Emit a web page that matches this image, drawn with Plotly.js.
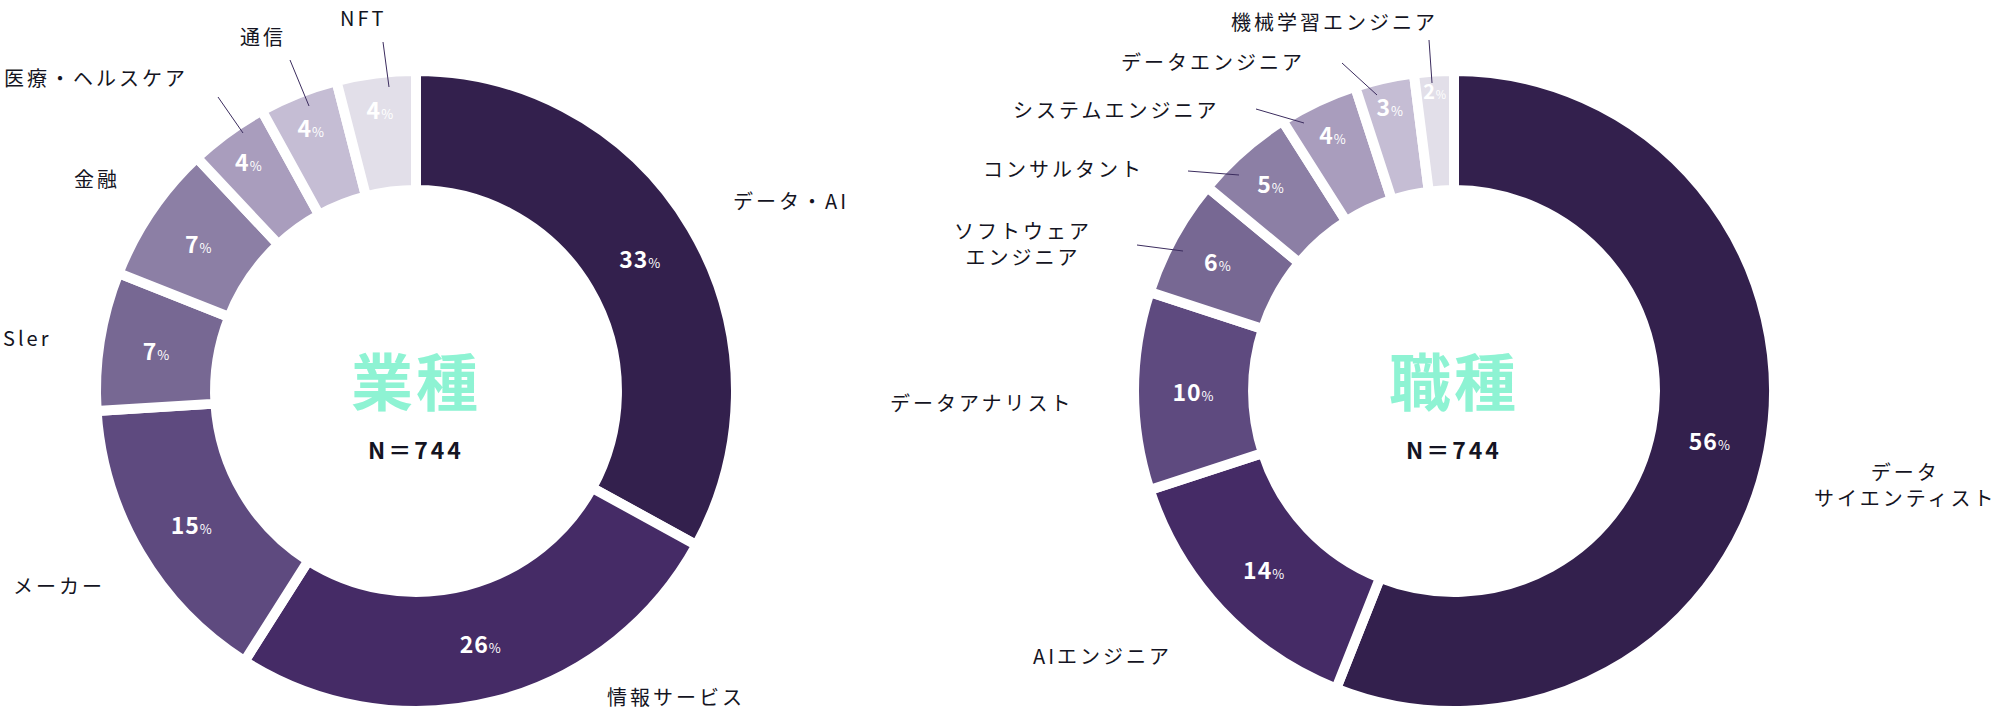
<!DOCTYPE html>
<html>
<head>
<meta charset="utf-8">
<script src="https://cdn.plot.ly/plotly-3.0.1.min.js"></script>
<style>
  html, body { margin: 0; padding: 0; background: #fff; }
  #graphDiv { width: 2001px; height: 714px; }
  .annotation-text { letter-spacing: 3px; }
  .slicetext { letter-spacing: 1px; }
</style>
</head>
<body>
<div id="graphDiv"></div>
<script>
// html tag
const graphDiv = document.getElementById('graphDiv');

// data *********************************************
// 業種
const industryLabels = ['データ・AI', '情報サービス', 'メーカー', 'Sler', '金融', '医療・ヘルスケア', '通信', 'NFT'];
const industryValues = [33, 26, 15, 7, 7, 4, 4, 4];

// 職種
const jobLabels = ['データ<br>サイエンティスト', 'AIエンジニア', 'データアナリスト', 'ソフトウェア<br>エンジニア',
                   'コンサルタント', 'システムエンジニア', 'データエンジニア', '機械学習エンジニア'];
const jobValues = [56, 14, 10, 6, 5, 4, 3, 2];

const sampleSize = 744;

// style ********************************************
const W = 2001, H = 714;
const sliceColors = ['#33204d', '#452b66', '#5e4a7f', '#776893', '#8c7fa5', '#a99dbd', '#c5bdd4', '#e2dfe9'];
const textColor = '#141422';
const titleColor = '#8ef3d3';
const jpFont = '"Noto Sans CJK JP", "Noto Sans", sans-serif';

// label anchors in px (centre of text), and leader lines [x0,y0,x1,y1]
const industryLabelPos = [[791,200],[676,696],[59,585],[27,337],[97,178],[96,77],[263,36],[363,17]];
const jobLabelPos = [[1905,484],[1102,655],[982,402],[1023,243],[1063,168],[1116,109],[1213,61],[1334,21]];
const leaderLines = [
  [218,97,243,133], [290,60,309,106], [383,42,389,87],
  [1429,40,1432,83], [1342,63,1377,95], [1256,109,1304,123], [1188,171,1239,175], [1137,245,1183,251]
];

function px(x){ return x / W; }
function py(y){ return 1 - y / H; }

function donut(labels, values, cx){
  var r = 320;
  return {
    type: 'pie',
    labels: labels,
    values: values,
    sort: false,
    direction: 'clockwise',
    rotation: 0,
    hole: 0.628,
    marker: { colors: sliceColors, line: { color: '#ffffff', width: 10 } },
    textposition: 'inside',
    insidetextorientation: 'horizontal',
    texttemplate: '<b>%{value}</b><span style="font-size:13px">%</span>',
    textfont: { family: jpFont, size: 23, color: '#ffffff' },
    hoverinfo: 'none',
    showlegend: false,
    domain: { x: [px(cx - r), px(cx + r)], y: [py(391 + r), py(391 - r)] }
  };
}

var annotations = [];
function addLabels(labels, pos){
  labels.forEach(function(l, i){
    annotations.push({
      xref: 'paper', yref: 'paper', x: px(pos[i][0]), y: py(pos[i][1]),
      xanchor: 'center', yanchor: 'middle', align: 'center',
      text: l, showarrow: false,
      font: { family: jpFont, size: 20, color: textColor }
    });
  });
}
addLabels(industryLabels, industryLabelPos);
addLabels(jobLabels, jobLabelPos);

// centre titles
[[416, '業種'], [1454, '職種']].forEach(function(c){
  annotations.push({
    xref: 'paper', yref: 'paper', x: px(c[0]), y: py(379),
    xanchor: 'center', yanchor: 'middle', text: '<b>' + c[1] + '</b>', showarrow: false,
    font: { family: jpFont, size: 62, color: titleColor }
  });
  annotations.push({
    xref: 'paper', yref: 'paper', x: px(c[0]), y: py(449),
    xanchor: 'center', yanchor: 'middle', text: '<b>N＝' + sampleSize + '</b>', showarrow: false,
    font: { family: jpFont, size: 23, color: textColor }
  });
});

var shapes = leaderLines.map(function(l){
  return {
    type: 'line', xref: 'paper', yref: 'paper',
    x0: px(l[0]), y0: py(l[1]), x1: px(l[2]), y1: py(l[3]),
    line: { color: '#3b2c5e', width: 1 }
  };
});

Plotly.newPlot(
  graphDiv,
  [ donut(industryLabels, industryValues, 416), donut(jobLabels, jobValues, 1454) ],
  {
    width: W, height: H,
    margin: { l: 0, r: 0, t: 0, b: 0 },
    paper_bgcolor: '#ffffff',
    annotations: annotations,
    shapes: shapes
  },
  { staticPlot: true, displayModeBar: false }
);
</script>
</body>
</html>
